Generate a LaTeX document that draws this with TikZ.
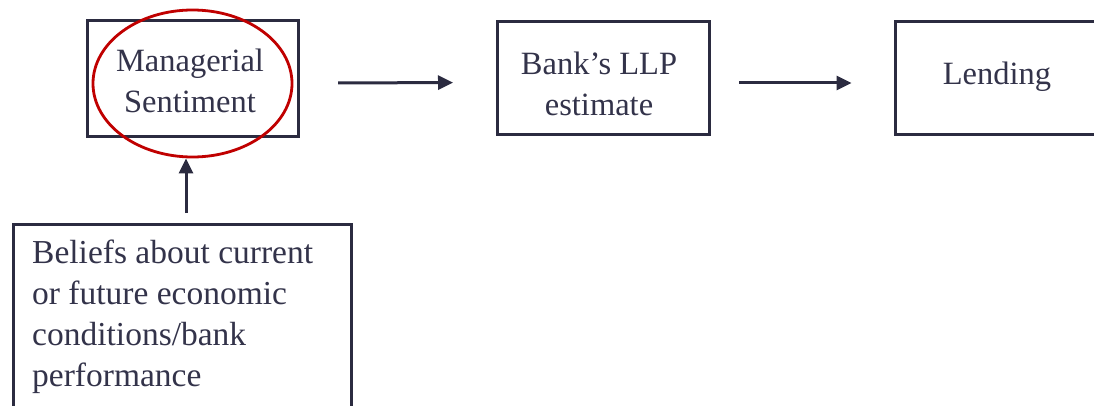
\documentclass[tikz,border=0pt]{standalone}
\usepackage{fontspec}
\setmainfont{Liberation Serif}
\usetikzlibrary{arrows.meta,shapes.geometric}
\definecolor{ink}{HTML}{2B2B40}
\definecolor{txt}{HTML}{33334A}
\definecolor{ring}{HTML}{C00000}
\begin{document}
\begin{tikzpicture}[x=1pt,y=-1pt,
  box/.style={draw=ink,line width=3pt,inner sep=0pt},
  lbl/.style={text=txt,align=center,inner sep=0pt,
    font=\fontsize{32.5}{41}\selectfont},
  arr/.style={draw=ink,line width=3pt,-{Triangle[length=15pt,width=14pt]}}]
\useasboundingbox (0,0) rectangle (1094,406);
\clip (0,0) rectangle (1094,406);
\fill[white] (0,0) rectangle (1094,406);
% top row of boxes
\node[box,minimum width=211pt,minimum height=116pt] (ms) at (193,79) {};
\node[box,minimum width=212pt,minimum height=113pt] (llp) at (603.5,78.5) {};
\node[box,minimum width=210pt,minimum height=113pt] (lend) at (1000,78.5) {};
% labels, placed by the baseline of their last line
\node[lbl,anchor=base] (mstxt) at (190,113) {Managerial\\Sentiment};
\node[lbl,anchor=base] (llptxt) at (599,116) {Bank’s LLP\\estimate};
\node[lbl,anchor=base] (lendtxt) at (997,85) {Lending};
% highlight ring round the first box
\node[draw=ring,line width=2.8pt,ellipse,minimum width=199pt,minimum height=147pt,
  inner sep=0pt] (ring) at (192.5,83.5) {};
% lower box with the beliefs
\node[box,anchor=north west,minimum width=338pt,minimum height=220pt] (bel)
  at (12,223) {};
\node[lbl,anchor=base west,align=left,font=\fontsize{33.5}{41}\selectfont]
  (beltxt) at (32,386)
  {Beliefs about current\\or future economic\\conditions/bank\\performance};
\coordinate (upx) at (186,0);
% connectors
\draw[arr,shorten <=38pt,shorten >=43pt]
  ([yshift=-4pt]ms.east) -- ([yshift=-4pt]llp.west);
\draw[arr,shorten <=28pt,shorten >=42pt]
  ([yshift=-4.5pt]llp.east) -- ([yshift=-4.5pt]lend.west);
\draw[arr,shorten <=10pt] (bel.north -| upx) -- (ring.south -| upx);
\end{tikzpicture}
\end{document}
